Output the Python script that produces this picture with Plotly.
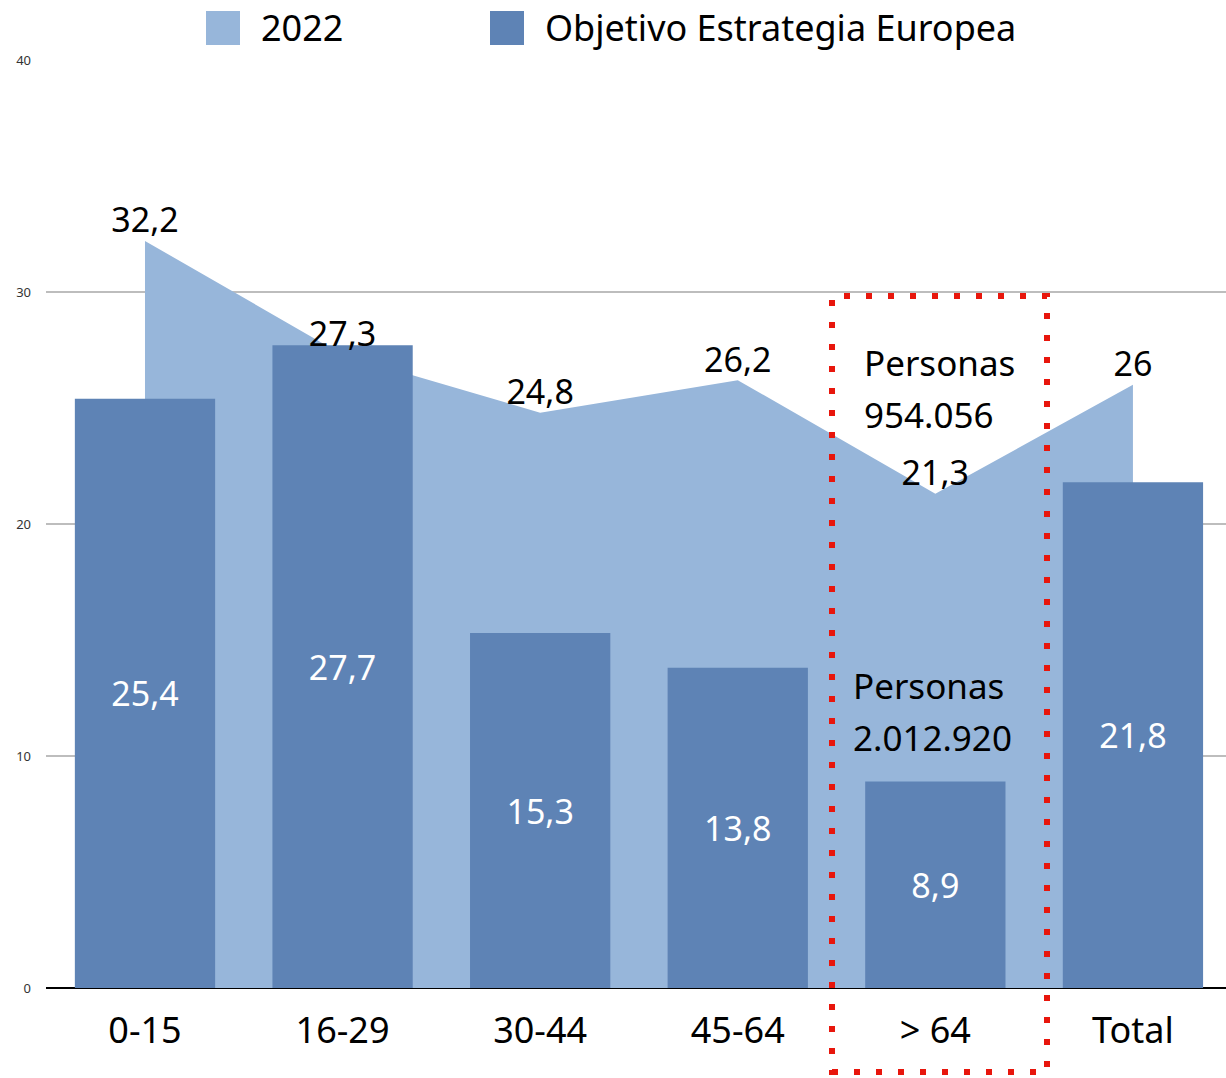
import plotly.graph_objects as go

categories = ["0-15", "16-29", "30-44", "45-64", "> 64", "Total"]
values_2022 = [32.2, 27.3, 24.8, 26.2, 21.3, 26]
values_objetivo = [25.4, 27.7, 15.3, 13.8, 8.9, 21.8]
series_names = ["2022", "Objetivo Estrategia Europea"]
y_ticks = [0, 10, 20, 30, 40]
note_top = ["Personas", "954.056"]
note_bottom = ["Personas", "2.012.920"]

LIGHT = "#97b6da"
DARK = "#5e83b5"
FONT = "Noto Sans"

def fmt(v):
    return f"{v:g}".replace(".", ",")

fig = go.Figure()
# area (base subplot, drawn below)
fig.add_trace(go.Scatter(
    x=categories, y=values_2022, mode="lines", fill="tozeroy",
    fillcolor=LIGHT, line=dict(width=0, color=LIGHT),
    name=series_names[0], showlegend=False, xaxis="x", yaxis="y",
))
# bars (overlay subplot, drawn above)
fig.add_trace(go.Bar(
    x=categories, y=values_objetivo, marker=dict(color=DARK, line=dict(width=0)),
    width=0.71, text=[fmt(v) for v in values_objetivo],
    textposition="inside", insidetextanchor="middle",
    textfont=dict(size=34, color="white", family=FONT),
    name=series_names[1], showlegend=False, xaxis="x2", yaxis="y2",
))
# area value labels on top
fig.add_trace(go.Scatter(
    x=categories, y=values_2022, mode="text",
    text=[fmt(v) for v in values_2022], textposition="top center",
    textfont=dict(size=34, color="black", family=FONT),
    showlegend=False, hoverinfo="skip", cliponaxis=False, xaxis="x2", yaxis="y2",
))

# manual legend
legend_items = [(series_names[0], LIGHT, 206), (series_names[1], DARK, 490)]
for name, col, px in legend_items:
    fig.add_shape(type="rect", xref="paper", yref="paper",
                  x0=(px - 46) / 1180, x1=(px + 34 - 46) / 1180,
                  y0=(988 - 45) / 928, y1=(988 - 11) / 928,
                  fillcolor=col, line=dict(width=0))
    fig.add_annotation(xref="paper", yref="paper", x=(px + 53 - 46) / 1180,
                       y=(988 - 28) / 928, text=name, showarrow=False,
                       xanchor="left", yanchor="middle",
                       font=dict(size=36, color="black", family=FONT))

# dotted highlight box
fig.add_shape(type="rect", xref="paper", yref="paper",
              x0=(832 - 46) / 1180, x1=(1047 - 46) / 1180,
              y0=(988 - 1072) / 928, y1=(988 - 296) / 928,
              line=dict(color="#e8160c", width=6, dash="6px,16px"),
              fillcolor="rgba(0,0,0,0)", layer="above")

for lines, x, ys in [(note_top, 3.629, [26.98, 24.7]), (note_bottom, 3.573, [13.06, 10.78])]:
    for txt, yv in zip(lines, ys):
        fig.add_annotation(x=x, y=yv, xref="x", yref="y", text=txt, showarrow=False,
                           xanchor="left", yanchor="middle",
                           font=dict(size=35, color="black", family=FONT))

xr = [-0.501, 5.471]
fig.update_layout(
    width=1226, height=1078,
    margin=dict(l=46, r=0, t=60, b=90),
    paper_bgcolor="white", plot_bgcolor="white",
    font=dict(family=FONT, color="black"),
    xaxis=dict(type="category", range=xr, showgrid=False, showline=False, ticks="",
               tickfont=dict(size=36, color="black", family=FONT), ticklabelstandoff=18),
    yaxis=dict(range=[0, 40], tickvals=y_ticks, showgrid=True, gridcolor="#bdbdbd",
               gridwidth=1.5, zeroline=True, zerolinecolor="black", zerolinewidth=2,
               showline=False, tickfont=dict(size=13, color="#333333", family=FONT),
               ticklabelstandoff=14),
    xaxis2=dict(type="category", range=xr, overlaying="x", showgrid=False,
                showticklabels=False, showline=False, ticks="", matches="x"),
    yaxis2=dict(range=[0, 40], overlaying="y", showgrid=False, showticklabels=False,
                zeroline=False, showline=False, ticks=""),
)

fig.write_html("out.html", config={"displayModeBar": False},
               post_script="document.body.style.margin='0';")
